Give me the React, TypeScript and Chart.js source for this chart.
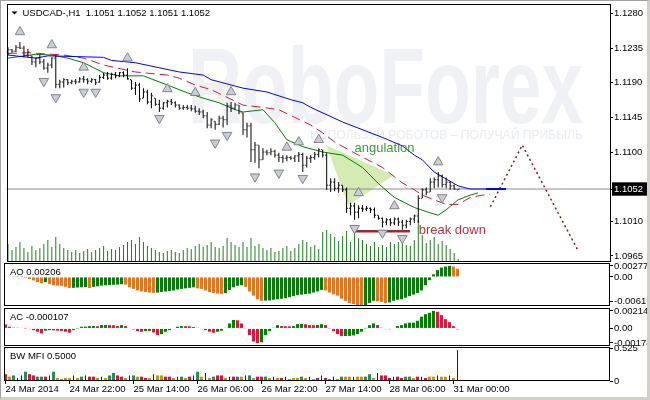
import React, { useEffect, useRef } from "react";
import { Chart, registerables } from "chart.js";

Chart.register(...registerables);

const FONT = '"Liberation Sans", Arial, sans-serif';
const X_MIN = -0.375;
const X_MAX = 151.125;

const symbolName = "USDCAD-,H1";
const timeTickIdx = [0, 16, 32, 48, 64, 80, 96, 112];
const timeLabels = ["24 Mar 2014", "24 Mar 22:00", "25 Mar 14:00", "26 Mar 06:00", "26 Mar 22:00", "27 Mar 14:00", "28 Mar 06:00", "31 Mar 00:00"];

const opens = [
  1.1230, 1.1233, 1.1231, 1.1236, 1.1235, 1.1226, 1.1225, 1.1217, 1.1222, 1.1217,
  1.1209, 1.1213, 1.1222, 1.1188, 1.1191, 1.1194, 1.1190, 1.1192, 1.1191, 1.1195,
  1.1194, 1.1192, 1.1194, 1.1191, 1.1197, 1.1200, 1.1196, 1.1201, 1.1199, 1.1203,
  1.1200, 1.1194, 1.1183, 1.1187, 1.1170, 1.1178, 1.1165, 1.1170, 1.1162, 1.1157,
  1.1164, 1.1166, 1.1164, 1.1161, 1.1157, 1.1158, 1.1157, 1.1156, 1.1153, 1.1152,
  1.1147, 1.1135, 1.1140, 1.1136, 1.1144, 1.1142, 1.1160, 1.1157, 1.1161, 1.1151,
  1.1129, 1.1134, 1.1103, 1.1109, 1.1090, 1.1100, 1.1099, 1.1101, 1.1096, 1.1093,
  1.1092, 1.1093, 1.1092, 1.1095, 1.1097, 1.1083, 1.1092, 1.1093, 1.1097, 1.1103,
  1.1096, 1.1057, 1.1061, 1.1053, 1.1057, 1.1051, 1.1027, 1.1030, 1.1022, 1.1027,
  1.1026, 1.1027, 1.1025, 1.1018, 1.1014, 1.1009, 1.1012, 1.1008, 1.1013, 1.1009,
  1.1005, 1.1010, 1.1013, 1.1017, 1.1040, 1.1051, 1.1048, 1.1061, 1.1064, 1.1069,
  1.1058, 1.1061, 1.1056, 1.1051,
];
const highs = [
  1.1236, 1.1234, 1.1239, 1.1243, 1.1238, 1.1234, 1.1225, 1.1223, 1.1226, 1.1221,
  1.1216, 1.1223, 1.1226, 1.1194, 1.1196, 1.1195, 1.1194, 1.1195, 1.1197, 1.1199,
  1.1196, 1.1196, 1.1195, 1.1200, 1.1203, 1.1204, 1.1203, 1.1204, 1.1204, 1.1205,
  1.1209, 1.1194, 1.1191, 1.1190, 1.1183, 1.1181, 1.1177, 1.1170, 1.1168, 1.1165,
  1.1168, 1.1169, 1.1166, 1.1162, 1.1161, 1.1161, 1.1161, 1.1160, 1.1157, 1.1155,
  1.1152, 1.1144, 1.1140, 1.1147, 1.1147, 1.1164, 1.1165, 1.1164, 1.1161, 1.1151,
  1.1138, 1.1138, 1.1113, 1.1109, 1.1105, 1.1103, 1.1105, 1.1103, 1.1099, 1.1096,
  1.1096, 1.1095, 1.1096, 1.1100, 1.1099, 1.1095, 1.1096, 1.1100, 1.1105, 1.1103,
  1.1099, 1.1066, 1.1066, 1.1061, 1.1057, 1.1054, 1.1034, 1.1034, 1.1031, 1.1031,
  1.1030, 1.1028, 1.1028, 1.1018, 1.1015, 1.1014, 1.1014, 1.1015, 1.1015, 1.1012,
  1.1012, 1.1015, 1.1019, 1.1044, 1.1053, 1.1054, 1.1066, 1.1067, 1.1074, 1.1071,
  1.1067, 1.1062, 1.1058, 1.1052,
];
const lows = [
  1.1226, 1.1229, 1.1230, 1.1234, 1.1223, 1.1223, 1.1213, 1.1210, 1.1214, 1.1207,
  1.1203, 1.1209, 1.1183, 1.1183, 1.1184, 1.1187, 1.1188, 1.1188, 1.1190, 1.1190,
  1.1188, 1.1190, 1.1187, 1.1190, 1.1195, 1.1194, 1.1194, 1.1196, 1.1197, 1.1197,
  1.1194, 1.1181, 1.1174, 1.1165, 1.1170, 1.1162, 1.1157, 1.1160, 1.1152, 1.1155,
  1.1158, 1.1161, 1.1158, 1.1155, 1.1155, 1.1155, 1.1153, 1.1151, 1.1148, 1.1144,
  1.1131, 1.1131, 1.1129, 1.1135, 1.1132, 1.1135, 1.1152, 1.1155, 1.1149, 1.1122,
  1.1119, 1.1087, 1.1086, 1.1079, 1.1090, 1.1096, 1.1096, 1.1093, 1.1087, 1.1086,
  1.1088, 1.1090, 1.1087, 1.1087, 1.1074, 1.1080, 1.1086, 1.1090, 1.1093, 1.1093,
  1.1051, 1.1048, 1.1049, 1.1047, 1.1048, 1.1021, 1.1018, 1.1012, 1.1014, 1.1022,
  1.1023, 1.1021, 1.1014, 1.1012, 1.1002, 1.1005, 1.1004, 1.1005, 1.1004, 1.0999,
  1.1001, 1.1005, 1.1008, 1.1008, 1.1040, 1.1044, 1.1048, 1.1053, 1.1054, 1.1054,
  1.1053, 1.1051, 1.1051, 1.1051,
];
const closes = [
  1.1233, 1.1231, 1.1236, 1.1235, 1.1226, 1.1230, 1.1217, 1.1222, 1.1217, 1.1209,
  1.1213, 1.1222, 1.1188, 1.1191, 1.1194, 1.1190, 1.1192, 1.1191, 1.1195, 1.1194,
  1.1192, 1.1194, 1.1190, 1.1197, 1.1200, 1.1196, 1.1201, 1.1199, 1.1203, 1.1200,
  1.1195, 1.1183, 1.1187, 1.1169, 1.1178, 1.1165, 1.1173, 1.1162, 1.1157, 1.1164,
  1.1166, 1.1164, 1.1161, 1.1157, 1.1158, 1.1157, 1.1156, 1.1153, 1.1152, 1.1147,
  1.1135, 1.1142, 1.1136, 1.1144, 1.1142, 1.1160, 1.1157, 1.1161, 1.1152, 1.1129,
  1.1134, 1.1103, 1.1109, 1.1090, 1.1100, 1.1099, 1.1101, 1.1096, 1.1093, 1.1092,
  1.1093, 1.1092, 1.1095, 1.1097, 1.1083, 1.1092, 1.1093, 1.1097, 1.1103, 1.1096,
  1.1057, 1.1061, 1.1053, 1.1057, 1.1051, 1.1027, 1.1030, 1.1022, 1.1027, 1.1026,
  1.1027, 1.1025, 1.1018, 1.1014, 1.1009, 1.1012, 1.1008, 1.1013, 1.1009, 1.1005,
  1.1010, 1.1013, 1.1017, 1.1040, 1.1051, 1.1048, 1.1061, 1.1064, 1.1069, 1.1058,
  1.1061, 1.1056, 1.1052, 1.1052,
];
const volumes = [
  900, 600, 750, 1000, 700, 500, 800, 600, 700, 900,
  1100, 750, 1250, 900, 700, 600, 500, 600, 450, 550,
  650, 500, 600, 700, 800, 550, 650, 600, 750, 850,
  1000, 1100, 900, 1250, 1000, 800, 700, 600, 500, 450,
  550, 600, 500, 450, 600, 700, 650, 800, 900,
  750, 850, 1000, 750, 700, 800, 1200, 1000, 850, 750,
  1000, 750, 1200, 800, 900, 700, 600, 700, 500, 550,
  700, 800, 550, 700, 900, 1100, 1000, 750, 850, 650,
  1500, 1600, 1400, 1250, 1050, 1300, 1550, 1000, 1600, 1200,
  1100, 900, 800, 1000, 750, 850, 750, 1000, 900, 1000,
  1200, 850, 800, 1100, 2100, 1350, 950, 1100, 1250, 900,
  1050, 850, 650, 450, 150,
];

const jawIdx = [0, 7, 10, 24, 26, 32, 43, 49, 51, 59, 65, 71, 74, 76, 84, 90, 94, 99, 102, 104, 107, 113, 116, 120, 125];
const jawVal = [1.1226, 1.1222, 1.1225, 1.1223, 1.1219, 1.1216, 1.1204, 1.1200, 1.1194, 1.1183, 1.1178, 1.1168, 1.1164, 1.1158, 1.1139, 1.1127, 1.1119, 1.1108, 1.1096, 1.1090, 1.1074, 1.1056, 1.1052, 1.1052, 1.1052];
const jawTailIdx = [120, 125];
const jawTailVal = [1.1052, 1.1052];
const teethIdx = [0, 5, 14, 19, 24, 32, 40, 43, 47, 51, 59, 64, 68, 72, 76, 79, 82, 88, 94, 99, 102, 104, 110, 113, 116, 119, 121];
const teethVal = [1.1228, 1.1229, 1.1226, 1.1222, 1.1213, 1.1204, 1.1200, 1.1196, 1.1187, 1.1181, 1.1161, 1.1158, 1.1155, 1.1145, 1.1135, 1.1125, 1.1113, 1.1096, 1.1080, 1.1060, 1.1051, 1.1044, 1.1032, 1.1032, 1.1041, 1.1044, 1.1045];
const lipsIdx = [0, 7, 11, 15, 19, 24, 28, 34, 40, 45, 49, 53, 57, 59, 64, 67, 70, 74, 79, 84, 89, 93, 97, 102, 106, 108, 110, 113, 116, 118];
const lipsVal = [1.1222, 1.1227, 1.1226, 1.1222, 1.1216, 1.1203, 1.1199, 1.1199, 1.1187, 1.1177, 1.1170, 1.1164, 1.1155, 1.1152, 1.1155, 1.1138, 1.1116, 1.1107, 1.1100, 1.1096, 1.1080, 1.1059, 1.1041, 1.1028, 1.1021, 1.1018, 1.1025, 1.1038, 1.1044, 1.1047];

const fractalUpIdx = [3, 11, 19, 30, 40, 47, 56, 70, 73, 78, 88, 97, 108];
const fractalUpVal = [1.1256, 1.1239, 1.1210, 1.1222, 1.1182, 1.1177, 1.1178, 1.1106, 1.1113, 1.1116, 1.1047, 1.1030, 1.1087];
const fractalDownIdx = [9, 12, 19, 22, 38, 52, 55, 62, 68, 74, 87, 94, 99, 109];
const fractalDownVal = [1.1192, 1.1171, 1.1178, 1.1178, 1.1144, 1.1112, 1.1122, 1.1068, 1.1073, 1.1066, 1.1001, 1.0995, 1.0988, 1.1041];

const currentPrice = 1.1052;
const priceTicks = [1.0965, 1.101, 1.1052, 1.11, 1.1145, 1.119, 1.1235, 1.128];

const angulationIdx = [79.9, 85.4, 96.9, 79.9];
const angulationVal = [1.1109, 1.1031, 1.107, 1.1109];
const breakDownIdx = [86.6, 100.9];
const breakDownVal = [1.0997, 1.0997];
const forecastIdx = [121.1, 129.1, 142.9];
const forecastVal = [1.1029, 1.1109, 1.0974];
const angulationText = "angulation";
const angulationAt = [87.0, 1.1105];
const breakDownText = "break down";
const breakDownAt = [103.1, 1.0998];

const aoValues = [
  0.0001, 0.00013, 0.00016, 0.00018, 0.0002, -0.00026, -0.00052, -0.00086, -0.00131, -0.00157,
  -0.00131, -0.00175, -0.00209, -0.00217, -0.00222, -0.00248, -0.00279, -0.00274, -0.00266, -0.00261,
  -0.00256, -0.00279, -0.00248, -0.00235, -0.00217, -0.00209, -0.00201, -0.00196, -0.00191, -0.00183,
  -0.00191, -0.00261, -0.003, -0.00339, -0.00365, -0.00378, -0.00392, -0.00399, -0.00392, -0.00378,
  -0.00365, -0.00352, -0.00339, -0.00313, -0.003, -0.00287, -0.00274, -0.00261, -0.00287, -0.003,
  -0.00339, -0.00378, -0.00405, -0.00418, -0.00425, -0.00405, -0.00326, -0.00261, -0.00222, -0.00209,
  -0.00248, -0.00365, -0.0047, -0.00561, -0.006, -0.00595, -0.0059, -0.00574, -0.00561, -0.00548,
  -0.00535, -0.00509, -0.00483, -0.00457, -0.00444, -0.00431, -0.00418, -0.00392, -0.00365, -0.00326,
  -0.00339, -0.00392, -0.00436, -0.0047, -0.00548, -0.006, -0.00653, -0.00679, -0.00705, -0.00731,
  -0.00705, -0.00653, -0.006, -0.00613, -0.00626, -0.00653, -0.0064, -0.006, -0.00574, -0.00561,
  -0.00522, -0.00483, -0.00444, -0.00405, -0.00339, -0.00209, -0.00078, 0.00065, 0.0017, 0.00235,
  0.00261, 0.00277, 0.00261, 0.00206,
];
const aoTicks = [-0.0061, 0, 0.00277];
const aoTickLabels = ["-0.0061", "0.00", "0.00277"];

const acValues = [
  0.000488, 0.000207, 0.000098, 0.000085, 0.000073, 0.000012, -0.000085, -0.000207, -0.000403, -0.00061,
  -0.000281, -0.000207, -0.000244, -0.000268, -0.000305, -0.000403, -0.000525, -0.000207, -0.000024, 0.000207,
  0.00022, 0.000281, 0.000293, 0.000268, 0.000403, 0.000415, 0.000403, 0.00039, 0.000281, 0.000403,
  0.000281, 0.0, -0.000122, -0.000329, -0.000403, -0.000329, -0.000305, -0.000488, -0.000817, -0.000695,
  -0.000403, -0.000207, 0.0, 0.000207, 0.000281, 0.000268, 0.000256, 0.000183, 0.000085, -0.000085,
  -0.000207, -0.000403, -0.000525, -0.000403, -0.000281, 0.000085, 0.00061, 0.001037, 0.001, 0.00061,
  -0.000037, -0.000817, -0.0016, -0.00178, -0.0017, -0.000817, -0.000329, 0.000085, 0.000403, 0.000293,
  0.000268, 0.000256, 0.000293, 0.000525, 0.000537, 0.000512, 0.000403, 0.00039, 0.000415, 0.000525,
  0.000403, -0.000024, -0.000329, -0.000695, -0.000939, -0.000927, -0.000915, -0.000854, -0.000695, -0.000403,
  0.000012, 0.000403, 0.00061, 0.000403, 0.000085, -0.000085, -0.000098, 0.0, 0.000281, 0.000403,
  0.00061, 0.000695, 0.000708, 0.000939, 0.001427, 0.001745, 0.001915, 0.002148, 0.002037, 0.001623,
  0.001135, 0.000769, 0.000281, -0.000107,
];
const acTicks = [-0.00178, 0, 0.002148];
const acTickLabels = ["-0.00178", "0.00", "0.002148"];

const mfiValues = [
  0.11, 0.07, 0.09, 0.048, 0.09, 0.15, 0.11, 0.09, 0.07, 0.07,
  0.07, 0.09, 0.15, 0.048, 0.032, 0.048, 0.048, 0.09, 0.048, 0.07,
  0.09, 0.07, 0.07, 0.048, 0.07, 0.048, 0.09, 0.13, 0.09, 0.07,
  0.048, 0.09, 0.09, 0.07, 0.07, 0.048, 0.048, 0.11, 0.09, 0.09,
  0.07, 0.07, 0.048, 0.07, 0.07, 0.048, 0.07, 0.09, 0.15, 0.07,
  0.13, 0.048, 0.07, 0.09, 0.09, 0.048, 0.07, 0.07, 0.07, 0.07,
  0.09, 0.09, 0.048, 0.07, 0.07, 0.07, 0.048, 0.07, 0.048, 0.048,
  0.07, 0.032, 0.048, 0.048, 0.07, 0.048, 0.07, 0.032, 0.048, 0.09,
  0.048, 0.032, 0.07, 0.032, 0.07, 0.07, 0.07, 0.07, 0.07, 0.07,
  0.07, 0.11, 0.048, 0.13, 0.09, 0.09, 0.048, 0.07, 0.07, 0.048,
  0.07, 0.07, 0.048, 0.07, 0.07, 0.048, 0.07, 0.07, 0.09, 0.07,
  0.07, 0.09, 0.048, 0.5,
];
const mfiColors = [
  "r", "y", "g", "b", "b", "g", "r", "r", "g", "g",
  "r", "b", "g", "y", "y", "y", "y", "b", "y", "g",
  "b", "r", "r", "y", "b", "y", "g", "g", "r", "r",
  "y", "b", "g", "y", "r", "r", "y", "b", "y", "y",
  "r", "r", "y", "b", "g", "y", "r", "b", "g", "y",
  "b", "y", "g", "r", "r", "y", "b", "r", "g", "y",
  "b", "g", "y", "r", "r", "g", "y", "b", "y", "r",
  "b", "y", "y", "y", "g", "y", "b", "y", "r", "b",
  "r", "y", "b", "y", "g", "y", "y", "b", "y", "y",
  "g", "g", "y", "b", "r", "r", "r", "b", "r", "r",
  "g", "g", "y", "r", "b", "r", "y", "y", "b", "y",
  "y", "b", "y", "b",
];
const mfiTicks = [0, 0.525];
const mfiTickLabels = ["0", "0.525"];

const MFI_PALETTE: any = { g: "#2e8b57", r: "#dc143c", y: "#c8960c", b: "#0000ff" };
const TICK_FONT = { family: FONT, size: 9.5 };

const pts = (xs: number[], ys: number[]) => xs.map((x, k) => ({ x, y: ys[k] }));

const framePlugin = {
  id: "frame",
  afterDraw(chart: any) {
    const { ctx, chartArea: a } = chart;
    ctx.save();
    ctx.strokeStyle = "#000";
    ctx.lineWidth = 1;
    ctx.strokeRect(Math.round(a.left) + 0.5, Math.round(a.top) + 0.5, Math.round(a.right - a.left) - 1, Math.round(a.bottom - a.top) - 1);
    ctx.restore();
  },
};

function labelPlugin(text: string) {
  return {
    id: "panelLabel",
    afterDatasetsDraw(chart: any) {
      const { ctx, chartArea: a } = chart;
      ctx.save();
      ctx.font = `9.5px ${FONT}`;
      ctx.fillStyle = "#000";
      ctx.textBaseline = "middle";
      ctx.fillText(text, a.left + 6, a.top + 9);
      ctx.restore();
    },
  };
}

function xAxis(show: boolean) {
  if (!show) return { type: "linear", min: X_MIN, max: X_MAX, display: false, offset: false, grid: { offset: false } };
  return {
    type: "linear",
    position: "bottom",
    min: X_MIN,
    max: X_MAX,
    offset: false,
    afterBuildTicks: (s: any) => {
      s.ticks = timeTickIdx.map((v) => ({ value: v }));
    },
    afterFit: (s: any) => {
      s.height = 19;
    },
    grid: { offset: false, drawOnChartArea: false, drawTicks: true, tickLength: 3, color: "#000", lineWidth: 1 },
    border: { display: false },
    ticks: {
      autoSkip: false,
      maxRotation: 0,
      minRotation: 0,
      align: "start",
      padding: 0,
      color: "#000",
      font: TICK_FONT,
      callback: (_v: any, i: number) => timeLabels[i],
    },
  };
}

function yAxis(min: number, max: number, values: number[], fmt: (v: number, i: number) => string, extraTicks: any = {}) {
  return {
    type: "linear",
    position: "right",
    min,
    max,
    afterBuildTicks: (s: any) => {
      s.ticks = values.map((v) => ({ value: v }));
    },
    afterFit: (s: any) => {
      s.width = 40;
    },
    grid: { drawOnChartArea: false, drawTicks: true, tickLength: 3, color: "#000", lineWidth: 1 },
    border: { display: false },
    ticks: {
      autoSkip: false,
      padding: 1,
      color: "#000",
      font: TICK_FONT,
      callback: (v: number, i: number) => fmt(v, i),
      ...extraTicks,
    },
  };
}

function baseOptions(padding: any) {
  return {
    responsive: false,
    animation: false,
    devicePixelRatio: 1,
    events: [],
    layout: { padding },
    plugins: { legend: { display: false }, tooltip: { enabled: false } },
  };
}

const mainDecor = {
  id: "mainDecor",
  beforeDatasetsDraw(chart: any) {
    const { ctx, chartArea: a } = chart;
    const oy = a.top - 4;
    ctx.save();
    ctx.beginPath();
    ctx.rect(a.left, a.top, a.right - a.left, a.bottom - a.top);
    ctx.clip();
    ctx.fillStyle = "#eff1f5";
    ctx.font = `bold 108px ${FONT}`;
    ctx.textBaseline = "alphabetic";
    const w = ctx.measureText("RoboForex").width;
    ctx.save();
    ctx.translate(188, 123 + oy);
    ctx.scale(395 / w, 1);
    ctx.fillText("RoboForex", 0, 0);
    ctx.restore();
    const sub = "ИСПОЛЬЗУЙ РОБОТОВ – ПОЛУЧАЙ ПРИБЫЛЬ";
    ctx.font = `13px ${FONT}`;
    ctx.textBaseline = "middle";
    const w2 = ctx.measureText(sub).width;
    ctx.save();
    ctx.translate(310, 135 + oy);
    ctx.scale(273 / w2, 1);
    ctx.fillStyle = "#e9ecf0";
    ctx.fillText(sub, 0, 0);
    ctx.restore();
    ctx.restore();
  },
  afterDatasetsDraw(chart: any) {
    const { ctx, chartArea: a, scales } = chart;
    const xs = scales.x;
    const ys = scales.y;
    ctx.save();
    ctx.textBaseline = "middle";
    ctx.font = `13px ${FONT}`;
    ctx.fillStyle = "#3c9a3c";
    ctx.fillText(angulationText, xs.getPixelForValue(angulationAt[0]), ys.getPixelForValue(angulationAt[1]));
    ctx.fillStyle = "#c0303c";
    ctx.fillText(breakDownText, xs.getPixelForValue(breakDownAt[0]), ys.getPixelForValue(breakDownAt[1]));
    const n = opens.length - 1;
    ctx.font = `9.5px ${FONT}`;
    ctx.fillStyle = "#000";
    const header = `${symbolName}  ${[opens[n], highs[n], lows[n], closes[n]].map((v) => v.toFixed(4)).join(" ")}`;
    ctx.fillText(header, a.left + 16, a.top + 9);
    ctx.beginPath();
    ctx.moveTo(a.left + 5, a.top + 7.5);
    ctx.lineTo(a.left + 11, a.top + 7.5);
    ctx.lineTo(a.left + 8, a.top + 10.5);
    ctx.closePath();
    ctx.fill();
    ctx.restore();
  },
};

function mainConfig(): any {
  const lineDs = (data: any, color: string, width: number, dash: number[] = [], order = 3) => ({
    type: "line",
    data,
    borderColor: color,
    borderWidth: width,
    borderDash: dash,
    pointRadius: 0,
    fill: false,
    tension: 0,
    order,
  });
  const tickDs = (data: any) => ({
    type: "scatter",
    data,
    pointStyle: "line",
    pointRadius: 0.5,
    pointBorderWidth: 1,
    pointBorderColor: "#000",
    pointBackgroundColor: "#000",
    order: 1,
  });
  return {
    type: "bar",
    data: {
      datasets: [
        {
          type: "bar",
          data: highs.map((h, i) => ({ x: i, y: [lows[i], h] })),
          backgroundColor: "#000",
          barThickness: 1,
          grouped: false,
          inflateAmount: 0,
          borderWidth: 0,
          order: 1,
        },
        tickDs(opens.map((v, i) => ({ x: i - 0.25, y: v }))),
        tickDs(closes.map((v, i) => ({ x: i + 0.25, y: v }))),
        {
          type: "scatter",
          data: pts(fractalUpIdx, fractalUpVal),
          pointStyle: "triangle",
          pointRadius: 5.5,
          pointRotation: 0,
          pointBackgroundColor: "#c9cdd4",
          pointBorderColor: "#80858e",
          pointBorderWidth: 1,
          order: 2,
        },
        {
          type: "scatter",
          data: pts(fractalDownIdx, fractalDownVal),
          pointStyle: "triangle",
          pointRadius: 5.5,
          pointRotation: 180,
          pointBackgroundColor: "#c9cdd4",
          pointBorderColor: "#80858e",
          pointBorderWidth: 1,
          order: 2,
        },
        lineDs(pts(jawIdx, jawVal), "#0000ff", 1),
        lineDs(pts(jawTailIdx, jawTailVal), "#0000ff", 2),
        lineDs(pts(teethIdx, teethVal), "#dc143c", 1, [9, 5]),
        lineDs(pts(lipsIdx, lipsVal), "#008000", 1),
        lineDs(pts(breakDownIdx, breakDownVal), "#a0282c", 2.5),
        lineDs(pts(forecastIdx, forecastVal), "#8b1a1a", 1.5, [2, 3]),
        lineDs([{ x: X_MIN, y: currentPrice }, { x: X_MAX, y: currentPrice }], "#8c8c8c", 1, [], 4),
        {
          type: "bar",
          yAxisID: "yVol",
          data: volumes.map((v, i) => ({ x: i, y: v })),
          backgroundColor: "#1e7d1e",
          barThickness: 1,
          grouped: false,
          inflateAmount: 0,
          borderWidth: 0,
          order: 5,
        },
        {
          type: "line",
          data: pts(angulationIdx, angulationVal),
          borderColor: "rgba(0,0,0,0)",
          borderWidth: 0,
          pointRadius: 0,
          fill: "shape",
          backgroundColor: "rgba(190,225,140,0.65)",
          tension: 0,
          order: 6,
        },
      ],
    },
    options: {
      ...baseOptions({ top: 10, bottom: 8, left: 4, right: 0 }),
      scales: {
        x: xAxis(false),
        y: yAxis(1.09572, 1.12923, priceTicks, (v) => v.toFixed(4), {
          color: (c: any) => (c.tick && c.tick.value === currentPrice ? "#fff" : "#000"),
          showLabelBackdrop: (c: any) => !!(c.tick && c.tick.value === currentPrice),
          backdropColor: "#000",
          backdropPadding: { top: 1, bottom: 1, left: 2, right: 4 },
        }),
        yVol: { type: "linear", display: false, min: 0, max: 12900, position: "left" },
      },
    },
    plugins: [mainDecor, framePlugin],
  };
}

function aoConfig(): any {
  const colors = aoValues.map((v, i) => (i > 0 && v < aoValues[i - 1] ? "#e5761f" : "#0a7a0a"));
  return {
    type: "bar",
    data: {
      datasets: [
        {
          data: aoValues.map((v, i) => ({ x: i, y: v })),
          backgroundColor: colors,
          barThickness: 3,
          grouped: false,
          inflateAmount: 0,
          borderWidth: 0,
        },
      ],
    },
    options: {
      ...baseOptions({ top: 8, bottom: 9, left: 4, right: 0 }),
      scales: { x: xAxis(false), y: yAxis(-0.0073, 0.0035, aoTicks, (_v, i) => aoTickLabels[i]) },
    },
    plugins: [labelPlugin(`AO ${aoValues[aoValues.length - 1].toFixed(5)}`), framePlugin],
  };
}

function acConfig(): any {
  const colors = acValues.map((v, i) => (i > 0 && v > acValues[i - 1] ? "#008000" : "#e0143c"));
  return {
    type: "bar",
    data: {
      datasets: [
        {
          data: acValues.map((v, i) => ({ x: i, y: v })),
          backgroundColor: colors,
          barThickness: 3,
          grouped: false,
          inflateAmount: 0,
          borderWidth: 0,
        },
      ],
    },
    options: {
      ...baseOptions({ top: 8, bottom: 9, left: 4, right: 0 }),
      scales: { x: xAxis(false), y: yAxis(-0.00215, 0.0025, acTicks, (_v, i) => acTickLabels[i]) },
    },
    plugins: [labelPlugin(`AC ${acValues[acValues.length - 1].toFixed(6)}`), framePlugin],
  };
}

function mfiConfig(): any {
  const wideIdx = mfiValues.map((_, i) => i).filter((i) => mfiColors[i] !== "b");
  const thinIdx = mfiValues.map((_, i) => i).filter((i) => mfiColors[i] === "b");
  return {
    type: "bar",
    data: {
      datasets: [
        {
          data: wideIdx.map((i) => ({ x: i, y: mfiValues[i] })),
          backgroundColor: wideIdx.map((i) => MFI_PALETTE[mfiColors[i]]),
          barThickness: 3,
          grouped: false,
          inflateAmount: 0,
          borderWidth: 0,
        },
        {
          data: thinIdx.map((i) => ({ x: i, y: mfiValues[i] })),
          backgroundColor: MFI_PALETTE.b,
          barThickness: 1,
          grouped: false,
          inflateAmount: 0,
          borderWidth: 0,
        },
      ],
    },
    options: {
      ...baseOptions({ top: 8, bottom: 0, left: 4, right: 0 }),
      scales: { x: xAxis(true), y: yAxis(0, 0.548, mfiTicks, (_v, i) => mfiTickLabels[i]) },
    },
    plugins: [labelPlugin(`BW MFI ${mfiValues[mfiValues.length - 1].toFixed(4)}`), framePlugin],
  };
}

function Panel({ top, height, make }: { top: number; height: number; make: () => any }) {
  const ref = useRef<HTMLCanvasElement>(null);
  useEffect(() => {
    const chart = new Chart(ref.current as HTMLCanvasElement, make());
    return () => chart.destroy();
  }, []);
  return (
    <canvas
      ref={ref}
      width={650}
      height={height}
      style={{ position: "absolute", left: 0, top, width: 650, height, display: "block" }}
    />
  );
}

export default function App() {
  return (
    <div style={{ position: "absolute", left: 0, top: 0, width: 650, height: 400, background: "#fff", overflow: "hidden" }}>
      <Panel top={-6} height={276} make={mainConfig} />
      <Panel top={255} height={60} make={aoConfig} />
      <Panel top={300} height={55} make={acConfig} />
      <Panel top={339} height={61} make={mfiConfig} />
      <div
        style={{
          position: "absolute",
          left: 0,
          top: 0,
          width: 650,
          height: 400,
          boxSizing: "border-box",
          borderTop: "1px solid #a0a0a0",
          borderLeft: "1px solid #a0a0a0",
          borderRight: "3px solid #d4d0c8",
          borderBottom: "3px solid #d4d0c8",
          pointerEvents: "none",
        }}
      />
    </div>
  );
}
